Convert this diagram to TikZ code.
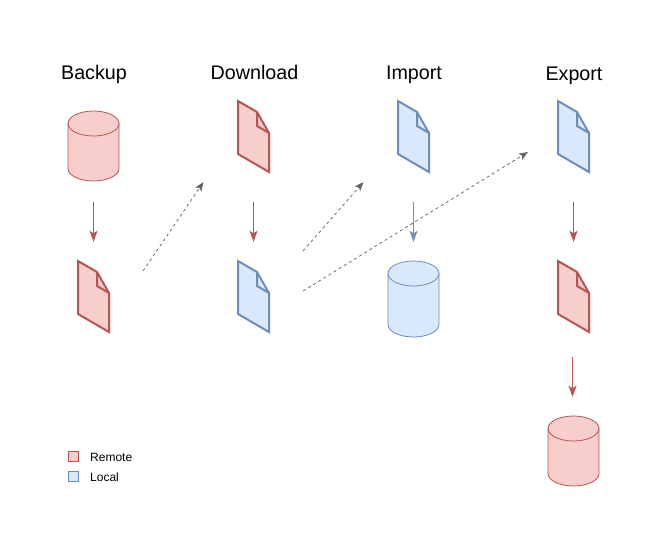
\documentclass[tikz,border=0pt]{standalone}
\usepackage{fontspec}
\setmainfont{Liberation Sans}
\usetikzlibrary{arrows.meta}

\definecolor{remotefill}{HTML}{F8CECC}
\definecolor{remoteline}{HTML}{B85450}
\definecolor{localfill}{HTML}{DAE8FC}
\definecolor{localline}{HTML}{6C8EBF}

\tikzset{
  remote/.style={draw=remoteline, fill=remotefill},
  local/.style={draw=localline, fill=localfill},
  title/.style={font=\fontsize{19.7}{24}\selectfont, inner sep=0pt, anchor=base},
  legendbox/.style={minimum size=10pt, inner sep=0pt, line width=1pt},
  legendtext/.style={font=\fontsize{12}{14}\selectfont, inner sep=0pt, anchor=base west},
  flowline/.style={line width=1.6pt, -{Stealth[length=11pt,width=8pt,inset=2.5pt]}, shorten <=30pt, shorten >=19pt},
  jumpline/.style={draw=black!60, line width=0.75pt, dash pattern=on 3pt off 3pt, -{Stealth[length=9pt,width=7pt,inset=2pt,sep=0pt]}},
  docfile/.pic={
    \node (-box) at (15.5,35.5) [minimum width=31pt, minimum height=71pt, inner sep=0pt] {};
    \draw [pic actions, line width=2pt, line join=miter] (0,0) -- (19,11) -- (31,32) -- (31,71) -- (0,53) -- cycle;
    \draw [pic actions, fill=none, line width=2pt] (19,11) -- (19,25) -- (31,32);
  },
  dbcyl/.pic={
    \node (-box) at (25.5,#1/2) [minimum width=51pt, minimum height=#1*1pt, inner sep=0pt] {};
    \draw [pic actions, line width=0.8pt] (0,12.5) arc [start angle=180, end angle=0, x radius=25.5, y radius=-12.5]
      -- (51,#1-12.5) arc [start angle=0, end angle=-180, x radius=25.5, y radius=-12.5] -- cycle;
    \draw [pic actions, fill=none, line width=0.8pt] (0,12.5) arc [start angle=180, end angle=360, x radius=25.5, y radius=-12.5];
  },
}

\begin{document}
\begin{tikzpicture}[x=1pt,y=-1pt]
  \useasboundingbox (0,0) rectangle (662,547);

  \node [title] (backup)   at (94,79)    {Backup};
  \node [title] (download) at (254.5,79) {Download};
  \node [title] (import)   at (414,79)   {Import};
  \node [title] (export)   at (574,80)   {Export};

  % first column
  \pic [remote] (cyla) at (68,111) {dbcyl=70};
  \pic [remote] (doca) at (78,261) {docfile};
  % second column
  \pic [remote] (docb) at (238,101) {docfile};
  \pic [local]  (docc) at (238,261) {docfile};
  % third column
  \pic [local] (docd) at (398,101) {docfile};
  \pic [local] (cylb) at (388,261) {dbcyl=76};
  % fourth column
  \pic [local]  (doce) at (558,101) {docfile};
  \pic [remote] (docf) at (558,261) {docfile};
  \pic [remote] (cylc) at (548,416) {dbcyl=70};

  \draw [flowline, draw=remoteline, fill=remoteline, shorten <=21pt] (cyla-box.south) -- (doca-box.north);
  \draw [flowline, draw=remoteline, fill=remoteline] (docb-box.south) -- (docc-box.north);
  \draw [flowline, draw=localline, fill=localline]  (docd-box.south) -- (cylb-box.north);
  \draw [flowline, draw=remoteline, fill=remoteline] (doce-box.south) -- (docf-box.north);
  \draw [flowline, draw=remoteline, fill=remoteline, shorten <=25pt] ([xshift=-1pt]docf-box.south) -- ([xshift=-1pt]cylc-box.north);

  \coordinate (ja) at (143,271);
  \coordinate (jb) at (203.5,182);
  \coordinate (jc) at (303,251);
  \coordinate (jd) at (363.5,182);
  \coordinate (je) at (303,291);
  \coordinate (jf) at (528,152);
  \draw [jumpline] (ja) -- (jb);
  \draw [jumpline] (jc) -- (jd);
  \draw [jumpline] (je) -- (jf);

  \node [legendbox, remote] (keyr) at (73.5,456.5) {};
  \node [legendbox, local]  (keyl) at (73.5,476.5) {};
  \node [legendtext] (keyrtext) at (90,461) {Remote};
  \node [legendtext] (keyltext) at (90,481) {Local};
\end{tikzpicture}
\end{document}
